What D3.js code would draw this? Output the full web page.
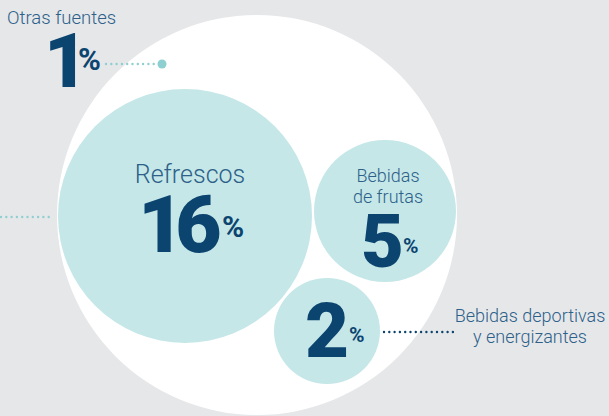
<!DOCTYPE html>
<html><head><meta charset="utf-8">
<script src="https://cdn.jsdelivr.net/npm/d3@7"></script>
<style>html,body{margin:0;padding:0;background:#e6e7e9;}svg{display:block;}</style>
</head><body>
<script>
// ---- data ----
const categories = ["Otras fuentes", "Refrescos", "Bebidas de frutas", "Bebidas deportivas y energizantes"];
const labelLines = [["Otras fuentes"], ["Refrescos"], ["Bebidas", "de frutas"], ["Bebidas deportivas", "y energizantes"]];
const values = [1, 16, 5, 2];

// ---- layout (positions/styles, not data) ----
const W = 609, H = 416;
const layout = [
  {cx: 162, cy: 64, type: "dot", lx: 7, ly: 24, ls: 18.5, lh: 20, anchor: "start", nx: 44, ny: 87, ns: 76, ps: 31, px: 78, py: 70},
  {cx: 185, cy: 216, type: "bubble", lx: 190, ly: 183, ls: 25, lh: 26, anchor: "middle", nx: 138, ny: 252, ns: 80, ps: 30, px: 222, py: 237},
  {cx: 385, cy: 211, type: "bubble", lx: 388, ly: 182, ls: 18, lh: 21, anchor: "middle", nx: 361, ny: 267, ns: 74, ps: 21, px: 403, py: 253},
  {cx: 327, cy: 331, type: "bubble", lx: 530, ly: 322, ls: 18, lh: 21, anchor: "middle", nx: 305, ny: 357, ns: 76, ps: 21, px: 349, py: 342}
];
const C = {bg: "#e6e7e9", white: "#ffffff", bubble: "#c5e7e8", navy: "#0c4470", label: "#2d6189", dotTeal: "#8fcfd1"};
const minBubble = 53;

const rScale = d3.scaleSqrt().domain([0, d3.max(values)]).range([0, 127]);

const svg = d3.select("body").append("svg").attr("width", W).attr("height", H)
  .style("font-family", "Roboto, 'Noto Sans', sans-serif");
svg.append("rect").attr("width", W).attr("height", H).attr("fill", C.bg);
svg.append("circle").attr("cx", 257).attr("cy", 215).attr("r", 200).attr("fill", C.white);

const data = categories.map((c, i) => ({cat: c, lines: labelLines[i], v: values[i], ...layout[i]}));

// connectors
const dotted = (x1, y1, x2, y2, color) => svg.append("line")
  .attr("x1", x1).attr("y1", y1).attr("x2", x2).attr("y2", y2)
  .attr("stroke", color).attr("stroke-width", 2.4).attr("stroke-linecap", "round")
  .attr("stroke-dasharray", "0,5.3");
dotted(1, 217, 52, 217, C.dotTeal);
dotted(106, 64, 156, 64, C.dotTeal);
dotted(384, 332, 455, 332, C.navy);

// bubbles
svg.selectAll("circle.b").data(data.filter(d => d.type === "bubble")).join("circle")
  .attr("class", "b").attr("cx", d => d.cx).attr("cy", d => d.cy)
  .attr("r", d => Math.max(rScale(d.v), minBubble)).attr("fill", C.bubble);
svg.selectAll("circle.d").data(data.filter(d => d.type === "dot")).join("circle")
  .attr("class", "d").attr("cx", d => d.cx).attr("cy", d => d.cy).attr("r", 4.5).attr("fill", C.dotTeal);

// labels
data.forEach(d => {
  d.lines.forEach((l, i) => svg.append("text")
    .attr("x", d.lx).attr("y", d.ly + i * d.lh).attr("fill", C.label)
    .attr("font-weight", 300).attr("font-size", d.ls).attr("text-anchor", d.anchor).text(l));
  svg.append("text").attr("x", d.nx).attr("y", d.ny).attr("fill", C.navy)
    .attr("font-weight", 900).attr("font-size", d.ns).attr("letter-spacing", -9).text(d.v);
  svg.append("text").attr("x", d.px).attr("y", d.py).attr("fill", C.navy)
    .attr("font-weight", 700).attr("font-size", d.ps).text("%");
});
</script>
</body></html>
